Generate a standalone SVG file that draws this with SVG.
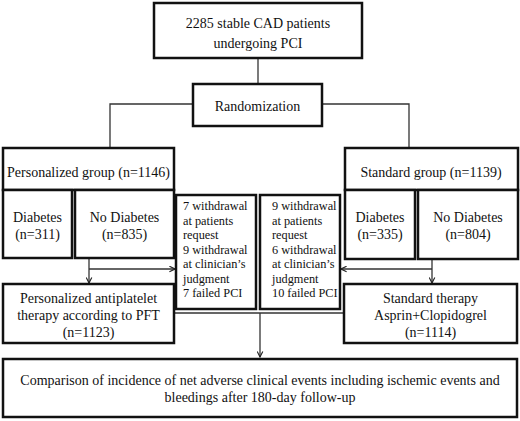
<svg xmlns="http://www.w3.org/2000/svg" width="520" height="421" viewBox="0 0 520 421">
<style>
.box{fill:#fff;stroke:#111;stroke-width:2.5}
.ln{fill:none;stroke:#333;stroke-width:1.3}
text{font-family:"Liberation Serif","Times New Roman",serif;fill:#111;font-size:14px}
.c{text-anchor:middle}
.w{font-size:12.3px}
</style>
<defs>
<marker id="ah" viewBox="0 0 10 10" refX="9" refY="5" markerWidth="7" markerHeight="7" orient="auto" markerUnits="userSpaceOnUse">
<polyline points="1,1 9,5 1,9" fill="none" stroke="#222" stroke-width="1.6"/>
</marker>
</defs>
<rect width="520" height="421" fill="#fff"/>
<g id="connectors">
<line class="ln" x1="258" y1="58" x2="258" y2="84"/>
<polyline class="ln" points="193,104 110,104 110,148"/>
<polyline class="ln" points="322,104 409,104 409,148"/>
<line class="ln" x1="89" y1="258" x2="89" y2="283" marker-end="url(#ah)"/>
<line class="ln" x1="89" y1="269" x2="175" y2="269" marker-end="url(#ah)"/>
<line class="ln" x1="432" y1="259" x2="432" y2="283" marker-end="url(#ah)"/>
<line class="ln" x1="432" y1="269" x2="341" y2="269" marker-end="url(#ah)"/>
<line class="ln" x1="174" y1="313" x2="344" y2="313"/>
<line class="ln" x1="260" y1="313" x2="260" y2="357" marker-end="url(#ah)"/>
</g>
<g id="n-top">
<rect class="box" x="154" y="3" width="208" height="55"/>
<text class="c" x="258" y="27.5">2285 stable CAD patients</text>
<text class="c" x="258" y="48">undergoing PCI</text>
</g>
<g id="n-rand">
<rect class="box" x="193" y="84" width="129" height="42"/>
<text class="c" x="257.5" y="110.5">Randomization</text>
</g>
<g id="n-pers">
<rect class="box" x="3" y="148" width="171" height="42"/>
<text class="c" x="88.5" y="176.5">Personalized group (n=1146)</text>
</g>
<g id="n-pers-dm">
<rect class="box" x="3" y="190" width="69" height="68"/>
<text class="c" x="37.5" y="221.5">Diabetes</text>
<text class="c" x="37.5" y="238.5">(n=311)</text>
</g>
<g id="n-pers-nodm">
<rect class="box" x="75" y="190" width="99" height="68"/>
<text class="c" x="124.5" y="221.5">No Diabetes</text>
<text class="c" x="124.5" y="238.5">(n=835)</text>
</g>
<g id="n-std">
<rect class="box" x="345" y="148" width="173" height="42"/>
<text class="c" x="431" y="176.5">Standard group (n=1139)</text>
</g>
<g id="n-std-dm">
<rect class="box" x="345" y="190" width="70" height="69"/>
<text class="c" x="380" y="221.5">Diabetes</text>
<text class="c" x="380" y="238.5">(n=335)</text>
</g>
<g id="n-std-nodm">
<rect class="box" x="418" y="190" width="100" height="69"/>
<text class="c" x="468" y="221.5">No Diabetes</text>
<text class="c" x="468" y="238.5">(n=804)</text>
</g>
<g id="n-wd-left">
<rect class="box" x="176" y="195" width="80" height="114"/>
<text class="w" x="183" y="210">7 withdrawal</text>
<text class="w" x="183" y="224.5">at patients</text>
<text class="w" x="183" y="239">request</text>
<text class="w" x="183" y="253.5">9 withdrawal</text>
<text class="w" x="183" y="268">at clinician’s</text>
<text class="w" x="183" y="282.5">judgment</text>
<text class="w" x="183" y="297">7 failed PCI</text>
</g>
<g id="n-wd-right">
<rect class="box" x="260" y="195" width="80" height="114"/>
<text class="w" x="272" y="210">9 withdrawal</text>
<text class="w" x="272" y="224.5">at patients</text>
<text class="w" x="272" y="239">request</text>
<text class="w" x="272" y="253.5">6 withdrawal</text>
<text class="w" x="272" y="268">at clinician’s</text>
<text class="w" x="272" y="282.5">judgment</text>
<text class="w" x="272" y="297">10 failed PCI</text>
</g>
<g id="n-pers-ther">
<rect class="box" x="3" y="284" width="171" height="59"/>
<text class="c" x="88.5" y="303">Personalized antiplatelet</text>
<text class="c" x="88.5" y="320">therapy according to PFT</text>
<text class="c" x="88.5" y="337">(n=1123)</text>
</g>
<g id="n-std-ther">
<rect class="box" x="344" y="284" width="173" height="59"/>
<text class="c" x="430.5" y="303">Standard therapy</text>
<text class="c" x="430.5" y="320">Asprin+Clopidogrel</text>
<text class="c" x="430.5" y="337">(n=1114)</text>
</g>
<g id="n-outcome">
<rect class="box" x="3" y="359" width="514" height="58"/>
<text class="c" x="260" y="385">Comparison of incidence of net adverse clinical events including ischemic events and</text>
<text class="c" x="260" y="402">bleedings after 180-day follow-up</text>
</g>
</svg>
